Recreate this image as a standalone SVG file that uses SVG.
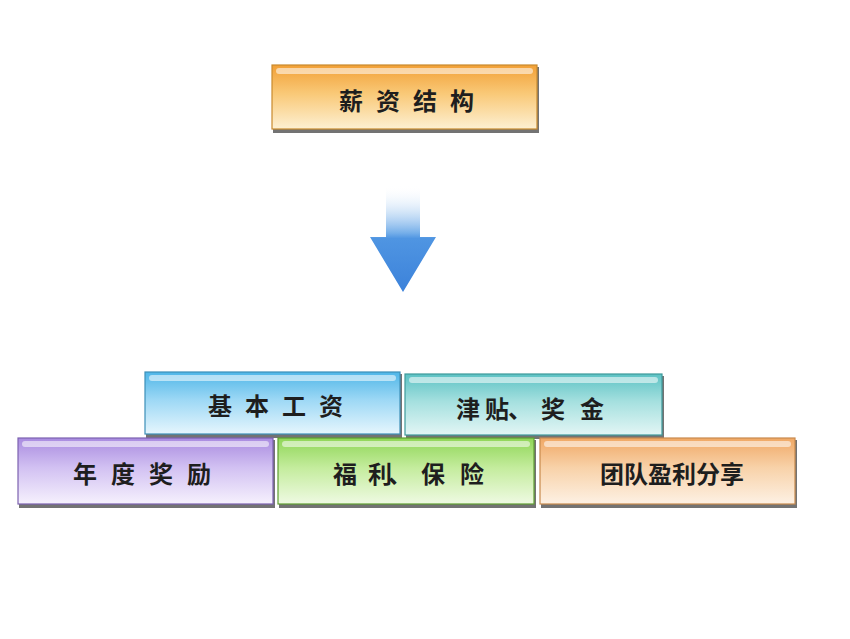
<svg xmlns="http://www.w3.org/2000/svg" width="850" height="639" viewBox="0 0 850 639">
<defs>
<style>
.lbl{font-family:"Noto Sans CJK SC","Noto Sans CJK JP",sans-serif;font-size:24px;font-weight:bold;fill:#1e1e1e;text-anchor:middle;dominant-baseline:central}
.sh{fill:#5a5a5a;opacity:0.85}
.hl{fill:#ffffff;opacity:0.55}
.bd{fill:none;stroke-width:1.2}
</style>
<linearGradient id="gOrange" x1="0" y1="0" x2="0" y2="1"><stop offset="0" stop-color="#f2a036"/><stop offset="0.45" stop-color="#f9c978"/><stop offset="1" stop-color="#fdf0d2"/></linearGradient>
<linearGradient id="gBlue" x1="0" y1="0" x2="0" y2="1"><stop offset="0" stop-color="#4fb6e8"/><stop offset="0.45" stop-color="#9dd8f5"/><stop offset="1" stop-color="#e6f6fd"/></linearGradient>
<linearGradient id="gTeal" x1="0" y1="0" x2="0" y2="1"><stop offset="0" stop-color="#5cc2c4"/><stop offset="0.45" stop-color="#a5e0df"/><stop offset="1" stop-color="#e3f6f5"/></linearGradient>
<linearGradient id="gPurple" x1="0" y1="0" x2="0" y2="1"><stop offset="0" stop-color="#a98be0"/><stop offset="0.45" stop-color="#d2c1f2"/><stop offset="1" stop-color="#f6f1fd"/></linearGradient>
<linearGradient id="gGreen" x1="0" y1="0" x2="0" y2="1"><stop offset="0" stop-color="#8fd657"/><stop offset="0.45" stop-color="#c4ec9d"/><stop offset="1" stop-color="#effae3"/></linearGradient>
<linearGradient id="gPeach" x1="0" y1="0" x2="0" y2="1"><stop offset="0" stop-color="#f0a865"/><stop offset="0.45" stop-color="#f8d2a9"/><stop offset="1" stop-color="#fdf1e4"/></linearGradient>
<linearGradient id="gArrow" x1="0" y1="185" x2="0" y2="292" gradientUnits="userSpaceOnUse"><stop offset="0" stop-color="#ffffff" stop-opacity="0"/><stop offset="0.45" stop-color="#74aee9"/><stop offset="0.5" stop-color="#4f95e2"/><stop offset="1" stop-color="#3c82da"/></linearGradient>
</defs>
<rect width="850" height="639" fill="#ffffff"/>

<g id="connectors">
<path d="M386 186 L420 186 L420 237 L436 237 L403 292 L370 237 L386 237 Z" fill="url(#gArrow)"/>
</g>

<g id="node-top">
<rect class="sh" x="273" y="67" width="266" height="66"/>
<rect x="272" y="65" width="265" height="64" fill="url(#gOrange)"/>
<rect class="hl" x="276" y="68" width="257" height="6" rx="3"/>
<rect class="bd" x="272" y="65" width="265" height="64" stroke="#c98a2e"/>
<text class="lbl" x="413" y="99" letter-spacing="13">薪资结构</text>
</g>

<g id="node-basic">
<rect class="sh" x="146" y="374" width="256" height="64"/>
<rect x="145" y="372" width="255" height="62" fill="url(#gBlue)"/>
<rect class="hl" x="149" y="375" width="247" height="6" rx="3"/>
<rect class="bd" x="145" y="372" width="255" height="62" stroke="#3d8fb8"/>
<text class="lbl" x="282" y="404" letter-spacing="13">基本工资</text>
</g>

<g id="node-allow">
<rect class="sh" x="406" y="376" width="258" height="63"/>
<rect x="405" y="374" width="257" height="61" fill="url(#gTeal)"/>
<rect class="hl" x="409" y="377" width="249" height="6" rx="3"/>
<rect class="bd" x="405" y="374" width="257" height="61" stroke="#3e9a9b"/>
<text class="lbl" x="468 497 520 553 592" y="407">津贴、奖金</text>
</g>

<g id="node-annual">
<rect class="sh" x="19" y="440" width="256" height="68"/>
<rect x="18" y="438" width="255" height="66" fill="url(#gPurple)"/>
<rect class="hl" x="22" y="441" width="247" height="6" rx="3"/>
<rect class="bd" x="18" y="438" width="255" height="66" stroke="#7c62b0"/>
<text class="lbl" x="149" y="472" letter-spacing="14">年度奖励</text>
</g>

<g id="node-welfare">
<rect class="sh" x="279" y="440" width="257" height="68"/>
<rect x="278" y="438" width="256" height="66" fill="url(#gGreen)"/>
<rect class="hl" x="282" y="441" width="248" height="6" rx="3"/>
<rect class="bd" x="278" y="438" width="256" height="66" stroke="#5f9e32"/>
<text class="lbl" x="345 380 400 433 472" y="472">福利、保险</text>
</g>

<g id="node-profit">
<rect class="sh" x="541" y="440" width="256" height="68"/>
<rect x="540" y="438" width="255" height="66" fill="url(#gPeach)"/>
<rect class="hl" x="544" y="441" width="247" height="6" rx="3"/>
<rect class="bd" x="540" y="438" width="255" height="66" stroke="#c98a4e"/>
<text class="lbl" x="672" y="472">团队盈利分享</text>
</g>
</svg>
